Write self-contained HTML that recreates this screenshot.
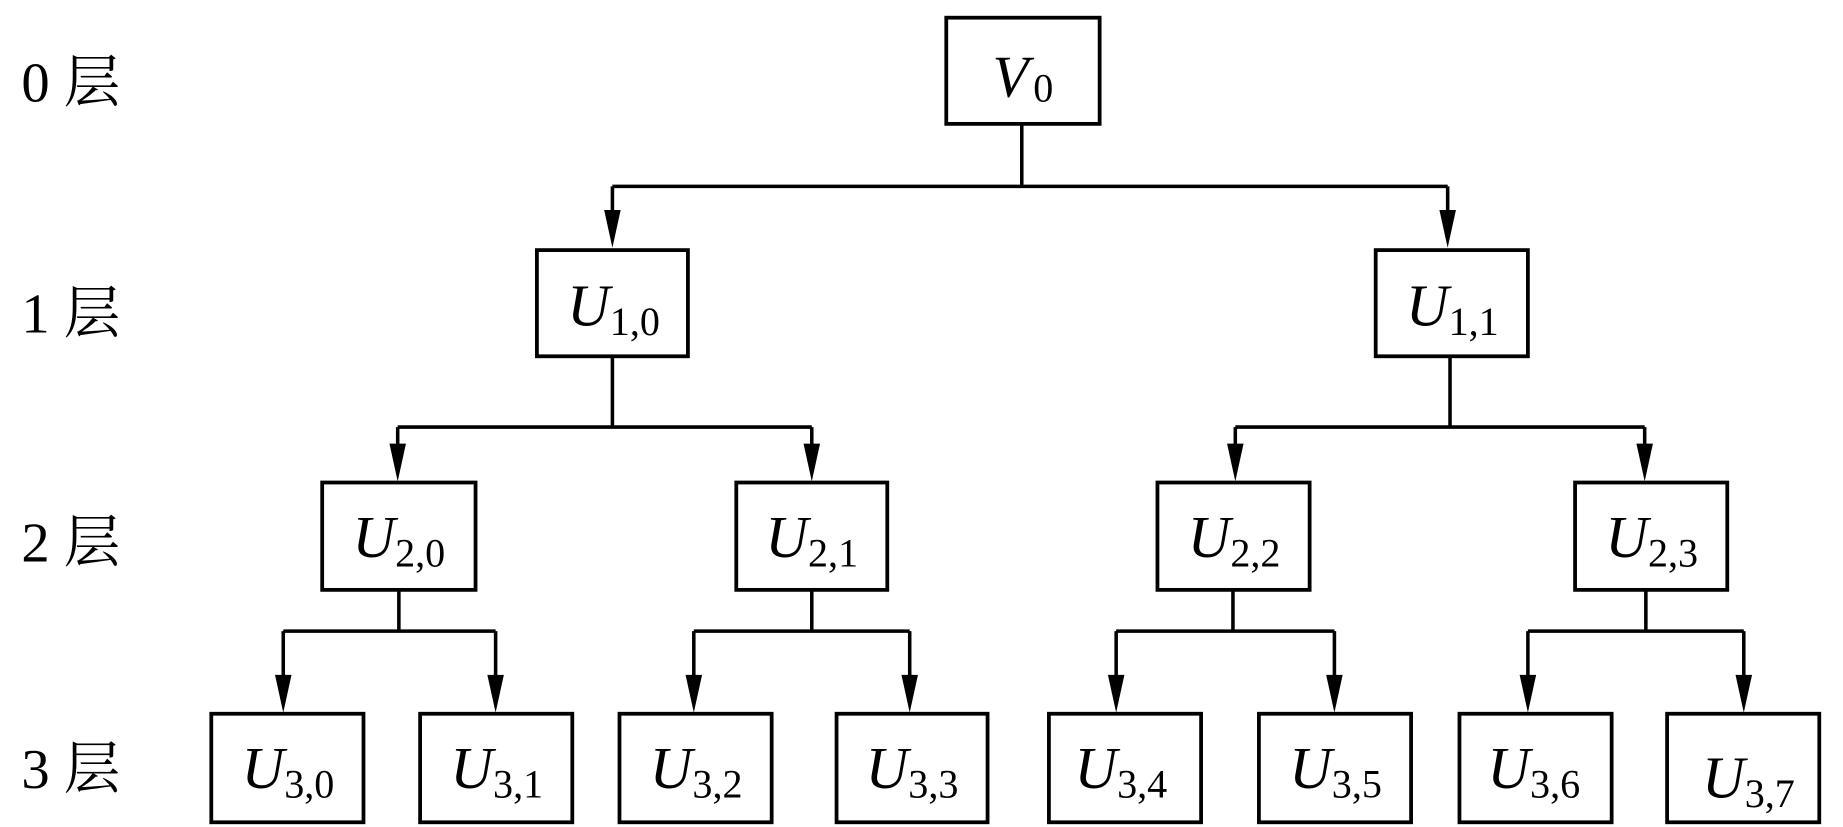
<!DOCTYPE html>
<html><head><meta charset="utf-8"><style>
html,body{margin:0;padding:0;background:#fff;}
svg{display:block;}
.b{fill:#fff;stroke:#000;stroke-width:3.2;}
.l{stroke:#000;stroke-width:3;fill:none;}
.t{font-family:"Liberation Serif",serif;font-size:50px;font-style:italic;}
.s{font-family:"Liberation Serif",serif;font-size:34px;font-style:normal;}
.lab{font-family:"Liberation Serif","Noto Serif CJK SC",serif;font-size:48px;}
</style></head><body>
<svg width="1843" height="827" viewBox="0 0 1562 701" xmlns="http://www.w3.org/2000/svg">
<defs><marker id="a" markerWidth="16" markerHeight="32" refX="8" refY="31" orient="auto-start-reverse" markerUnits="userSpaceOnUse" viewBox="0 0 16 32"><path d="M0,0 L16,0 L8,32 Z" fill="#000" transform="rotate(0)"/></marker></defs>
<g id="conns">
<path class="l" d="M866,105 V158 M519,158 H1227"/>
<path d="M512,178 H526 L519,210 Z M1220,178 H1234 L1227,210 Z"/>
<path class="l" d="M519,158 V180 M1227,158 V180"/>
<path class="l" d="M519,302 V362 M337,362 H688 M1229,302 V362 M1047,362 H1394"/>
<path class="l" d="M337,362 V382 M688,362 V382 M1047,362 V382 M1394,362 V382"/>
<path d="M330,376 H344 L337,408 Z M681,376 H695 L688,408 Z M1040,376 H1054 L1047,408 Z M1387,376 H1401 L1394,408 Z"/>
<path class="l" d="M338,500 V535 M240,535 H420 M688,500 V535 M588,535 H771 M1045,500 V535 M946,535 H1131 M1395,500 V535 M1295,535 H1478"/>
<path class="l" d="M240,535 V575 M420,535 V575 M588,535 V575 M771,535 V575 M946,535 V575 M1131,535 V575 M1295,535 V575 M1478,535 V575"/>
<path d="M233,572 H247 L240,604 Z M413,572 H427 L420,604 Z M581,572 H595 L588,604 Z M764,572 H778 L771,604 Z M939,572 H953 L946,604 Z M1124,572 H1138 L1131,604 Z M1288,572 H1302 L1295,604 Z M1471,572 H1485 L1478,604 Z"/>
</g>
<rect class="b" x="802" y="15" width="130" height="90"/>
<text class="t" x="867" y="82" text-anchor="middle">V<tspan class="s" dx="4" dy="4">0</tspan></text>

<rect class="b" x="455" y="212" width="128" height="90"/>
<text class="t" x="520" y="276" text-anchor="middle">U<tspan class="s" dy="8">1,0</tspan></text>
<rect class="b" x="1166" y="212" width="129" height="90"/>
<text class="t" x="1231" y="276" text-anchor="middle">U<tspan class="s" dy="8">1,1</tspan></text>

<rect class="b" x="273" y="409" width="130" height="91"/>
<text class="t" x="338" y="472" text-anchor="middle">U<tspan class="s" dy="8">2,0</tspan></text>
<rect class="b" x="624" y="409" width="128" height="91"/>
<text class="t" x="688" y="472" text-anchor="middle">U<tspan class="s" dy="8">2,1</tspan></text>
<rect class="b" x="981" y="409" width="129" height="91"/>
<text class="t" x="1046" y="472" text-anchor="middle">U<tspan class="s" dy="8">2,2</tspan></text>
<rect class="b" x="1335" y="409" width="129" height="91"/>
<text class="t" x="1400" y="472" text-anchor="middle">U<tspan class="s" dy="8">2,3</tspan></text>

<rect class="b" x="179" y="605" width="129" height="92"/>
<text class="t" x="244" y="668" text-anchor="middle">U<tspan class="s" dy="8">3,0</tspan></text>
<rect class="b" x="356" y="605" width="129" height="92"/>
<text class="t" x="421" y="668" text-anchor="middle">U<tspan class="s" dy="8">3,1</tspan></text>
<rect class="b" x="525" y="605" width="129" height="92"/>
<text class="t" x="590" y="668" text-anchor="middle">U<tspan class="s" dy="8">3,2</tspan></text>
<rect class="b" x="709" y="605" width="128" height="92"/>
<text class="t" x="773" y="668" text-anchor="middle">U<tspan class="s" dy="8">3,3</tspan></text>
<rect class="b" x="889" y="605" width="129" height="92"/>
<text class="t" x="950" y="668" text-anchor="middle">U<tspan class="s" dy="8">3,4</tspan></text>
<rect class="b" x="1067" y="605" width="129" height="92"/>
<text class="t" x="1132" y="668" text-anchor="middle">U<tspan class="s" dy="8">3,5</tspan></text>
<rect class="b" x="1237" y="605" width="129" height="92"/>
<text class="t" x="1300" y="668" text-anchor="middle">U<tspan class="s" dy="8">3,6</tspan></text>
<rect class="b" x="1413" y="605" width="129" height="92"/>
<text class="t" x="1482" y="676" text-anchor="middle">U<tspan class="s" dy="8">3,7</tspan></text>

<text class="lab" x="18" y="86">0 层</text>
<text class="lab" x="18" y="282">1 层</text>
<text class="lab" x="18" y="476">2 层</text>
<text class="lab" x="18" y="668">3 层</text>
</svg>
</body></html>
